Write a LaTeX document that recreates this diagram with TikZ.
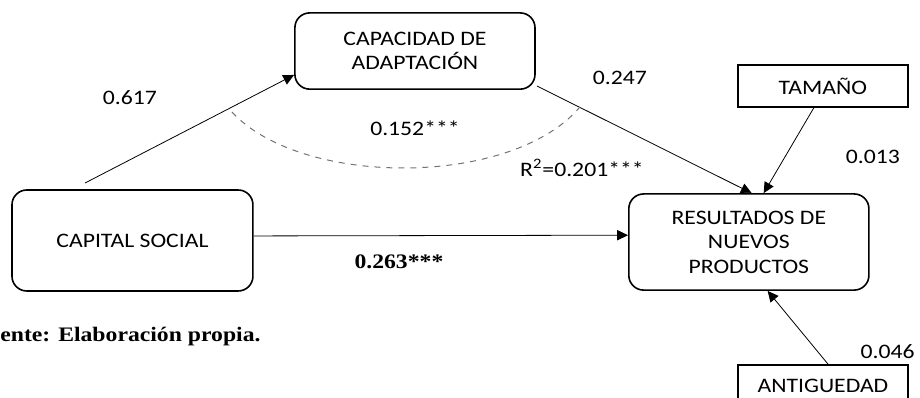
\documentclass[tikz,border=0pt]{standalone}
\usepackage{fontspec}
\setmainfont{Carlito}[FakeStretch=1.15]
\newfontfamily\timesbf{Liberation Serif}[FakeStretch=1.15]
\usetikzlibrary{arrows.meta}
\tikzset{var/.style={draw=black,line width=0.8pt,rounded corners=0.26cm,align=center,inner sep=0pt},
ctrl/.style={draw=black,line width=0.8pt,align=center,inner sep=0pt,minimum width=2.99cm,minimum height=0.74cm},
path/.style={-{Triangle[length=1.9mm,width=1.8mm]},line width=0.4pt,draw=black}}

\begin{document}
\begin{tikzpicture}[font=\fontsize{10.3}{12}\selectfont]
      \clip (0,0) rectangle (16.17,6.995);

      \node[var,minimum width=4.22cm,minimum height=1.34cm] (cap) at (7.293,6.098) {CAPACIDAD DE\\ADAPTACIÓN};
      \node[var,minimum width=4.235cm,minimum height=1.775cm] (soc) at (2.328,2.768) {CAPITAL SOCIAL};
      \node[var,minimum width=4.22cm,minimum height=1.69cm,font=\fontsize{10.3}{12.3}\selectfont] (res) at (13.162,2.741) {RESULTADOS DE\\NUEVOS\\PRODUCTOS};
      \node[ctrl] (tam) at (14.463,5.483) {TAMAÑO};
      \node[ctrl] (ant) at (14.463,0.211) {ANTIGUEDAD};

      \coordinate (s) at (1.494,3.778);
      \draw[path] (s) -- ([yshift=-0.42cm]cap.west);
      \node (l617) at (2.284,5.272) {0.617};

      \draw[path] ([xshift=0.02cm,yshift=0.07cm]cap.south east) -- ([xshift=0.05cm]res.north);
      \node (l247) at (10.895,5.623) {0.247};

      \draw[path] ([xshift=-0.16cm]tam.south) -- ([xshift=0.26cm]res.north);
      \node (l013) at (15.341,4.235) {0.013};

      \draw[path] ([yshift=0.08cm]soc.east) -- ([yshift=0.12cm]res.west);
      \node (l263) at (7.012,2.39) {\timesbf\bfseries 0.263***};

      \draw[path] ([xshift=0.09cm]ant.north) -- ([xshift=0.33cm]res.south);
      \node (l046) at (15.6,0.81) {0.046};

      %correlacion
      \coordinate (a1) at (4.077,5.026);
      \coordinate (a2) at (10.192,5.114);
      \draw[dashed,draw=black!55,line width=0.5pt] (a1) .. controls (5.3,3.7) and (9.0,3.7) .. (a2);
      \node (l152) at (7.293,4.745) {0.152***};
      \node (lr2) at (10.228,4.042) {R\textsuperscript{2}=0.201***};

      \node[anchor=west,inner sep=0pt] (src) at (0,1.072) {\timesbf\bfseries ente: Elaboración propia.};
\end{tikzpicture}
\end{document}
